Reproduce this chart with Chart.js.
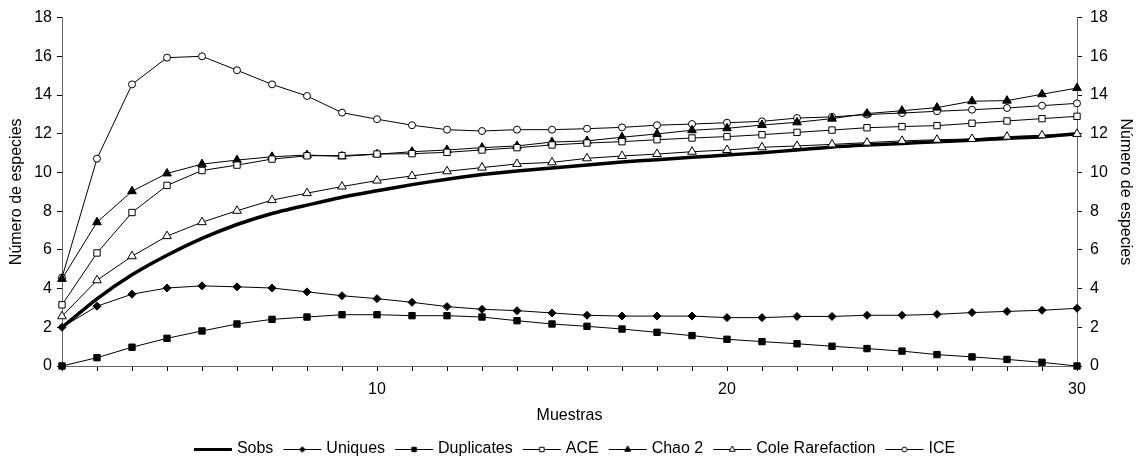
<!DOCTYPE html>
<html>
<head>
<meta charset="utf-8">
<script src="https://cdn.jsdelivr.net/npm/chart.js@4/dist/chart.umd.min.js"></script>
<style>
    body { margin: 0; background: #fff; }
    #wrap { width: 1144px; height: 462px; }
</style>
</head>
<body>
<div id="wrap"><canvas id="chart"></canvas></div>
<script>
// Data
const muestras = [1, 2, 3, 4, 5, 6, 7, 8, 9, 10, 11, 12, 13, 14, 15, 16, 17, 18, 19, 20, 21, 22, 23, 24, 25, 26, 27, 28, 29, 30];
const sobs = [2, 3.47, 4.71, 5.72, 6.59, 7.31, 7.88, 8.31, 8.72, 9.05, 9.37, 9.65, 9.89, 10.08, 10.23, 10.39, 10.54, 10.66, 10.78, 10.9, 11.02, 11.16, 11.32, 11.42, 11.5, 11.59, 11.66, 11.76, 11.85, 12.0];
const uniques = [2, 3.09, 3.71, 4.03, 4.14, 4.09, 4.03, 3.83, 3.63, 3.48, 3.29, 3.07, 2.93, 2.86, 2.74, 2.62, 2.58, 2.58, 2.58, 2.5, 2.5, 2.56, 2.56, 2.62, 2.62, 2.67, 2.76, 2.82, 2.88, 2.98];
const duplicates = [0, 0.43, 0.97, 1.43, 1.81, 2.17, 2.41, 2.53, 2.65, 2.65, 2.6, 2.6, 2.53, 2.34, 2.17, 2.05, 1.91, 1.74, 1.57, 1.38, 1.26, 1.15, 1.02, 0.9, 0.77, 0.59, 0.47, 0.34, 0.19, 0];
const ace = [3.16, 5.84, 7.93, 9.33, 10.1, 10.38, 10.69, 10.86, 10.87, 10.95, 10.97, 11.04, 11.16, 11.28, 11.42, 11.52, 11.59, 11.69, 11.78, 11.85, 11.95, 12.07, 12.19, 12.31, 12.37, 12.42, 12.54, 12.66, 12.78, 12.9];
const chao2 = [4.5, 7.43, 9.03, 9.95, 10.43, 10.64, 10.81, 10.9, 10.83, 10.94, 11.07, 11.16, 11.28, 11.37, 11.57, 11.63, 11.82, 11.99, 12.18, 12.28, 12.45, 12.59, 12.78, 13.04, 13.19, 13.35, 13.68, 13.71, 14.04, 14.36];
const cole = [2.57, 4.43, 5.67, 6.71, 7.43, 8.02, 8.57, 8.93, 9.27, 9.58, 9.82, 10.06, 10.25, 10.44, 10.52, 10.73, 10.85, 10.95, 11.07, 11.16, 11.3, 11.37, 11.45, 11.54, 11.63, 11.69, 11.73, 11.85, 11.92, 11.99];
const ice = [4.57, 10.71, 14.55, 15.93, 16.0, 15.28, 14.55, 13.95, 13.09, 12.75, 12.44, 12.21, 12.14, 12.21, 12.21, 12.26, 12.33, 12.44, 12.5, 12.57, 12.64, 12.81, 12.87, 12.99, 13.07, 13.16, 13.24, 13.33, 13.45, 13.57];
const yTicks = [0, 2, 4, 6, 8, 10, 12, 14, 16, 18];

const FONT = "'Liberation Sans', Arial, sans-serif";
const FS = 16;

function pts(values) {
    return values.map((v, i) => ({ x: muestras[i], y: v }));
}

// Series styles
const series = [
    { label: 'Sobs', data: sobs, width: 3.5, style: false, fill: '#000', radius: 0 },
    { label: 'Uniques', data: uniques, width: 1, style: 'rectRot', fill: '#000', radius: 4 },
    { label: 'Duplicates', data: duplicates, width: 1, style: 'rect', fill: '#000', radius: 4.5 },
    { label: 'ACE', data: ace, width: 1, style: 'rect', fill: '#fff', radius: 4.5 },
    { label: 'Chao 2', data: chao2, width: 1, style: 'triangle', fill: '#000', radius: 5 },
    { label: 'Cole Rarefaction', data: cole, width: 1, style: 'triangle', fill: '#fff', radius: 5 },
    { label: 'ICE', data: ice, width: 1, style: 'circle', fill: '#fff', radius: 3.5 }
];

// Legend icons: a short line with a small marker in the middle
function legendIcon(s) {
    const c = document.createElement('canvas');
    c.width = 48;
    c.height = 14;
    const ctx = c.getContext('2d');
    ctx.strokeStyle = '#000';
    ctx.lineWidth = s.width > 1 ? 3 : 1;
    ctx.beginPath();
    ctx.moveTo(9, 7.5);
    ctx.lineTo(47, 7.5);
    ctx.stroke();
    if (s.style) {
        ctx.fillStyle = s.fill;
        ctx.strokeStyle = '#000';
        ctx.lineWidth = 1;
        Chart.helpers.drawPoint(ctx, { pointStyle: s.style, radius: s.radius * 0.7, rotation: 0, borderWidth: 1 }, 28, 7.5);
    }
    return c;
}

const datasets = series.map((s, i) => ({
    label: s.label,
    data: pts(s.data),
    borderColor: '#000',
    borderWidth: s.width,
    pointStyle: s.style || 'circle',
    pointRadius: s.radius,
    pointBackgroundColor: s.fill,
    pointBorderColor: '#000',
    pointBorderWidth: 1,
    tension: s.width > 1 ? 0.2 : 0,
    clip: false,
    order: i === 0 ? 10 : i,
    yAxisID: 'y'
}));

const chart = new Chart(document.getElementById('chart'), {
    type: 'line',
    data: { datasets },
    options: {
        responsive: true,
        maintainAspectRatio: false,
        animation: false,
        layout: { padding: { top: 17, bottom: -5 } },
        plugins: {
            legend: {
                position: 'bottom',
                labels: {
                    color: '#000',
                    font: { family: FONT, size: FS },
                    usePointStyle: true,
                    pointStyleWidth: 40,
                    padding: 5,
                    generateLabels: () => series.map((s, i) => ({
                        text: s.label,
                        pointStyle: legendIcon(s),
                        fillStyle: s.fill,
                        strokeStyle: '#000',
                        lineWidth: 0,
                        fontColor: '#000',
                        hidden: false,
                        datasetIndex: i
                    }))
                }
            },
            tooltip: { enabled: false }
        },
        scales: {
            x: {
                type: 'linear',
                min: 1,
                max: 30,
                afterFit: (scale) => { scale.height = 70; },
                afterBuildTicks: (scale) => { scale.ticks = muestras.map(v => ({ value: v })); },
                ticks: {
                    color: '#000',
                    font: { family: FONT, size: FS },
                    autoSkip: false,
                    maxRotation: 0,
                    padding: 9,
                    callback: (v) => (v % 10 === 0 ? v : '')
                },
                grid: { drawOnChartArea: false, color: '#000', tickLength: 5 },
                border: { color: '#666', width: 1 },
                title: { display: true, text: 'Muestras', color: '#000', font: { family: FONT, size: FS }, padding: { top: 0, bottom: 11 } }
            },
            y: {
                position: 'left',
                min: 0,
                max: 18,
                afterFit: (scale) => { scale.width = 62; },
                afterBuildTicks: (scale) => { scale.ticks = yTicks.map(v => ({ value: v })); },
                ticks: { color: '#000', font: { family: FONT, size: FS }, padding: 5 },
                grid: { drawOnChartArea: false, color: '#000', tickLength: 5 },
                border: { color: '#666', width: 1 },
                title: { display: true, text: 'Número de especies', color: '#000', font: { family: FONT, size: FS }, padding: { top: 7, bottom: 0 } }
            },
            y2: {
                position: 'right',
                min: 0,
                max: 18,
                afterFit: (scale) => { scale.width = 67; },
                afterBuildTicks: (scale) => { scale.ticks = yTicks.map(v => ({ value: v })); },
                ticks: { color: '#000', font: { family: FONT, size: FS }, padding: 8 },
                grid: { drawOnChartArea: false, color: '#000', tickLength: 5 },
                border: { color: '#666', width: 1 },
                title: { display: true, text: 'Número de especies', color: '#000', font: { family: FONT, size: FS }, padding: { top: 9, bottom: 0 } }
            }
        }
    }
});
</script>
</body>
</html>
